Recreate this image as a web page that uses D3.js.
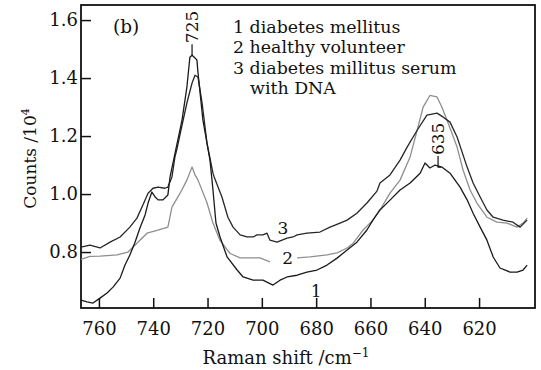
<!DOCTYPE html>
<html>
<head>
<meta charset="utf-8">
<script src="https://cdn.jsdelivr.net/npm/d3@7"></script>
<style>
  html, body { margin: 0; padding: 0; background: #fff; }
  svg { display: block; }
  text { font-family: "DejaVu Serif", serif; fill: #111; }
</style>
</head>
<body>
<svg id="chart" width="541" height="370"></svg>
<script>
// ---------- data ----------
const xTicks = [760, 740, 720, 700, 680, 660, 640, 620];
const yTicks = [0.8, 1.0, 1.2, 1.4, 1.6];

const shift1 = [766.6,764.4,762.2,759.6,757.0,754.8,752.2,750.4,748.6,746.7,744.9,743.0,741.9,740.5,739.3,738.2,736.4,734.6,733.8,729.4,727.6,726.5,725.7,724.6,723.9,723.5,721.7,719.1,718.0,716.9,715.4,712.8,709.1,706.9,703.2,699.6,695.9,694.4,693.3,690.7,687.0,683.4,679.7,676.0,672.3,668.6,665.0,661.3,659.1,656.5,652.8,649.1,645.4,641.7,639.9,638.1,636.2,633.7,630.7,627.0,624.4,622.2,619.6,617.1,614.8,612.3,608.6,606.0,603.8,602.3];
const counts1 = [0.634,0.628,0.624,0.641,0.659,0.679,0.710,0.755,0.790,0.834,0.883,0.928,0.969,1.007,0.990,0.980,0.980,0.997,1.059,1.255,1.369,1.472,1.479,1.469,1.462,1.417,1.255,1.117,1.014,0.900,0.852,0.783,0.738,0.714,0.703,0.703,0.686,0.696,0.703,0.714,0.720,0.731,0.738,0.755,0.779,0.807,0.834,0.876,0.910,0.945,0.979,1.014,1.038,1.072,1.107,1.090,1.100,1.093,1.072,1.024,0.980,0.934,0.886,0.841,0.783,0.745,0.731,0.731,0.738,0.755];

const shift2 = [766.6,763.3,759.6,753.3,749.3,746.0,742.3,738.6,734.6,733.1,730.1,727.6,725.7,724.6,723.5,720.2,718.0,715.4,711.7,708.0,704.4,700.7,697.0,692.0,687.0,682.3,676.0,672.3,668.6,666.4,662.7,659.1,656.5,652.8,649.1,645.4,642.8,640.6,638.1,635.5,633.7,631.4,628.1,625.9,623.3,620.8,617.1,613.4,609.7,606.0,603.8,602.3];
const counts2 = [0.775,0.785,0.786,0.790,0.800,0.830,0.865,0.875,0.886,0.955,1.003,1.048,1.093,1.066,1.048,0.970,0.900,0.840,0.795,0.780,0.780,0.780,0.766,null,0.780,0.783,0.790,0.797,0.814,0.830,0.876,0.910,0.945,1.003,1.048,1.128,1.220,1.300,1.340,1.335,1.300,1.245,1.162,1.083,1.014,0.969,0.920,0.903,0.900,0.886,0.900,0.917];

const shift3 = [766.6,763.3,759.6,755.9,752.2,748.6,746.0,743.8,741.9,740.1,738.2,735.7,734.6,733.1,732.0,731.4,729.8,727.6,725.7,724.6,723.5,722.0,720.2,718.0,717.6,714.7,712.5,710.6,708.0,705.5,703.2,701.8,699.6,698.1,697.0,694.4,690.7,688.5,687.0,683.4,678.6,674.9,671.2,668.6,665.0,661.3,657.6,656.5,652.8,649.1,646.5,642.8,639.2,635.5,633.3,630.7,628.1,624.4,622.2,619.6,617.1,614.8,611.2,607.5,604.9,602.3];
const counts3 = [0.817,0.824,0.814,0.834,0.852,0.886,0.917,0.962,1.003,1.020,1.024,1.020,1.024,1.059,1.128,1.150,1.220,1.314,1.383,1.410,1.403,1.314,1.176,1.072,1.060,0.990,0.920,0.886,0.859,0.852,0.852,0.859,0.859,0.865,0.841,0.834,0.848,0.852,0.859,0.865,0.869,0.886,0.900,0.910,0.934,0.969,1.010,1.038,1.066,1.117,1.162,1.220,1.272,1.279,1.266,1.248,1.197,1.093,1.038,0.990,0.945,0.920,0.910,0.903,0.886,0.910];

const legendLines = ["1 diabetes mellitus", "2 healthy volunteer", "3 diabetes millitus serum", "with DNA"];
const curveLabels = [
  {text: "1", shift: 680.0, value: 0.645},
  {text: "2", shift: 690.5, value: 0.759},
  {text: "3", shift: 692.2, value: 0.862}
];
const peakLabels = [
  {text: "725", shift: 725.7, value: 1.479, font: "DejaVu Serif", foot: 0},
  {text: "635", shift: 635.1, value: 1.093, font: "Liberation Sans", foot: 3}
];

// ---------- layout ----------
const W = 541, H = 370;
const margin = {left: 81, top: 5, right: 6, bottom: 62};
const svg = d3.select("#chart");

const x = d3.scaleLinear().domain([766.6, 599.4]).range([margin.left, W - margin.right]);
const y = d3.scaleLinear().domain([0.607, 1.652]).range([H - margin.bottom, margin.top]);

// axes with inward ticks
const xAxis = svg.append("g")
  .attr("transform", `translate(0,${H - margin.bottom})`)
  .call(d3.axisBottom(x).tickValues(xTicks).tickSize(-10).tickPadding(14).tickFormat(d3.format("d")));
const yAxis = svg.append("g")
  .attr("transform", `translate(${margin.left},0)`)
  .call(d3.axisLeft(y).tickValues(yTicks).tickSize(-10).tickPadding(3).tickFormat(d3.format(".1f")));
[xAxis, yAxis].forEach(g => {
  g.select(".domain").remove();
  g.selectAll(".tick line").attr("stroke", "#111").attr("stroke-width", 1.5);
  g.selectAll(".tick text").attr("font-family", "DejaVu Serif").attr("font-size", 18).attr("fill", "#111");
});

// frame
svg.append("rect")
  .attr("x", margin.left).attr("y", margin.top)
  .attr("width", W - margin.left - margin.right)
  .attr("height", H - margin.top - margin.bottom)
  .attr("fill", "none").attr("stroke", "#111").attr("stroke-width", 1.8);

// curves
const series = [
  {xs: shift2, ys: counts2, color: "#8f8f8f"},
  {xs: shift3, ys: counts3, color: "#262626"},
  {xs: shift1, ys: counts1, color: "#1a1a1a"}
];
const line = d3.line()
  .defined(d => d[1] !== null)
  .x(d => x(d[0])).y(d => y(d[1]));
series.forEach(s => {
  svg.append("path")
    .datum(s.xs.map((v, i) => [v, s.ys[i]]))
    .attr("fill", "none")
    .attr("stroke", s.color)
    .attr("stroke-width", 1.3)
    .attr("stroke-linejoin", "round")
    .attr("d", line);
});

// peak annotations
peakLabels.forEach(p => {
  const px = x(p.shift), py = y(p.value);
  svg.append("path")
    .attr("d", `M${px},${py - 11}V${py}h${p.foot}`)
    .attr("fill", "none")
    .attr("stroke", "#111").attr("stroke-width", 1.2);
  svg.append("text")
    .attr("transform", `translate(${px + 6},${py - 12}) rotate(-90)`)
    .attr("text-anchor", "start")
    .attr("font-family", p.font)
    .attr("font-size", 17)
    .text(p.text);
});

// curve number labels
curveLabels.forEach(c => {
  svg.append("text")
    .attr("x", x(c.shift)).attr("y", y(c.value))
    .attr("text-anchor", "middle")
    .attr("font-size", 17)
    .text(c.text);
});

// panel label
svg.append("text").attr("x", margin.left + 32).attr("y", 33).attr("font-size", 18.5).text("(b)");

// legend
legendLines.forEach((t, i) => {
  svg.append("text")
    .attr("x", margin.left + 152 + (i === 3 ? 17 : 0))
    .attr("y", 33 + i * 20.3)
    .attr("font-size", 17.4)
    .text(t);
});

// axis titles
const xt = svg.append("text")
  .attr("x", 286)
  .attr("y", 364)
  .attr("text-anchor", "middle")
  .attr("font-size", 18);
xt.append("tspan").text("Raman shift /cm");
xt.append("tspan").attr("font-size", 12).attr("dy", -7).text("−1");

const yt = svg.append("text")
  .attr("transform", `translate(36,${(margin.top + H - margin.bottom) / 2 + 2}) rotate(-90)`)
  .attr("text-anchor", "middle")
  .attr("font-size", 17);
yt.append("tspan").text("Counts /10");
yt.append("tspan").attr("font-size", 11).attr("dy", -7).text("4");
</script>
</body>
</html>
